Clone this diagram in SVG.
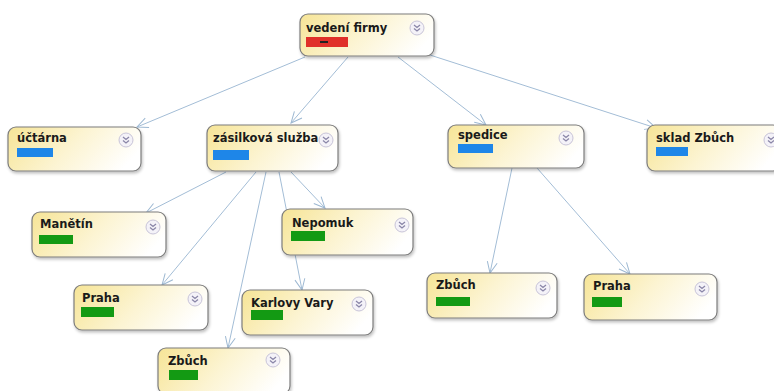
<svg xmlns="http://www.w3.org/2000/svg" width="774" height="391" viewBox="0 0 774 391">
<defs>
<linearGradient id="nodeFill" x1="0" y1="0.2" x2="1" y2="0.5">
<stop offset="0" stop-color="#f7e69c"/>
<stop offset="0.5" stop-color="#fcf4d2"/>
<stop offset="1" stop-color="#ffffff"/>
</linearGradient>
<filter id="shadow" x="-10%" y="-10%" width="125%" height="135%">
<feGaussianBlur in="SourceAlpha" stdDeviation="1.5"/>
<feOffset dx="1" dy="2" result="b"/>
<feComponentTransfer><feFuncA type="linear" slope="0.25"/></feComponentTransfer>
<feMerge><feMergeNode/><feMergeNode in="SourceGraphic"/></feMerge>
</filter>
<marker id="arrow" markerWidth="14" markerHeight="12" refX="12" refY="6" orient="auto" markerUnits="userSpaceOnUse">
<path d="M1,1 L12,6 L1,11" fill="none" stroke="#9db8d2" stroke-width="1"/>
</marker>
<g id="exp">
<circle cx="0" cy="0" r="7" fill="#f4f2f8" stroke="#c8c4d8" stroke-width="1"/>
<path d="M-3,-3 L0,-0.5 L3,-3 M-3,0.5 L0,3 L3,0.5" fill="none" stroke="#8a86a8" stroke-width="1.3"/>
</g>
</defs>
<style>
.box{fill:url(#nodeFill);stroke:#7d7d7d;stroke-width:1.2;filter:url(#shadow)}
.lbl{font-family:"DejaVu Sans",Verdana,sans-serif;font-weight:bold;font-size:11.5px;fill:#1a1a1a}
.edge{fill:none;stroke:#a3bdd6;stroke-width:1;marker-end:url(#arrow)}
.red{fill:#e0302a}
.blue{fill:#1e86e8}
.green{fill:#139a13}
</style>
<rect width="774" height="391" fill="#ffffff"/>
<g id="connectors">
<line class="edge" x1="305" y1="57" x2="137" y2="127"/>
<line class="edge" x1="348" y1="57" x2="291" y2="123"/>
<line class="edge" x1="398" y1="57" x2="486" y2="125"/>
<line class="edge" x1="430" y1="55" x2="656" y2="128"/>
<line class="edge" x1="226" y1="172" x2="146" y2="213"/>
<line class="edge" x1="291" y1="172" x2="325" y2="208"/>
<line class="edge" x1="256" y1="172" x2="162" y2="285"/>
<line class="edge" x1="279" y1="172" x2="302" y2="290"/>
<line class="edge" x1="266" y1="172" x2="228" y2="348"/>
<line class="edge" x1="512" y1="168" x2="490" y2="273"/>
<line class="edge" x1="537" y1="168" x2="630" y2="274"/>
</g>
<g id="n-vedeni">
<rect class="box" x="300" y="14" width="134" height="42" rx="8"/>
<text class="lbl" x="306" y="32">vedení firmy</text>
<rect class="red" x="306" y="37" width="42" height="10"/>
<rect x="320" y="41" width="8" height="2" fill="#222"/>
<use href="#exp" x="417" y="28"/>
</g>
<g id="n-uctarna">
<rect class="box" x="8" y="127" width="133" height="44" rx="8"/>
<text class="lbl" x="17" y="142">účtárna</text>
<rect class="blue" x="17" y="148" width="36" height="9"/>
<use href="#exp" x="126" y="140"/>
</g>
<g id="n-zasilkova">
<rect class="box" x="207" y="125" width="131" height="46" rx="8"/>
<text class="lbl" x="213" y="142">zásilková služba</text>
<rect class="blue" x="213" y="150" width="36" height="10"/>
<use href="#exp" x="326" y="140"/>
</g>
<g id="n-spedice">
<rect class="box" x="448" y="125" width="136" height="43" rx="8"/>
<text class="lbl" x="458" y="139">spedice</text>
<rect class="blue" x="458" y="144" width="35" height="9"/>
<use href="#exp" x="566" y="138"/>
</g>
<g id="n-sklad">
<rect class="box" x="647" y="125" width="134" height="46" rx="8"/>
<text class="lbl" x="656" y="142">sklad Zbůch</text>
<rect class="blue" x="656" y="147" width="32" height="9"/>
<use href="#exp" x="771" y="140"/>
</g>
<g id="n-manetin">
<rect class="box" x="32" y="212" width="134" height="45" rx="8"/>
<text class="lbl" x="40" y="228">Manětín</text>
<rect class="green" x="39" y="235" width="34" height="9"/>
<use href="#exp" x="153" y="227"/>
</g>
<g id="n-nepomuk">
<rect class="box" x="282" y="209" width="131" height="46" rx="8"/>
<text class="lbl" x="292" y="227">Nepomuk</text>
<rect class="green" x="291" y="231" width="34" height="10"/>
<use href="#exp" x="402" y="225"/>
</g>
<g id="n-praha1">
<rect class="box" x="74" y="285" width="134" height="45" rx="8"/>
<text class="lbl" x="82" y="302">Praha</text>
<rect class="green" x="81" y="307" width="33" height="10"/>
<use href="#exp" x="195" y="299"/>
</g>
<g id="n-karlovy">
<rect class="box" x="242" y="290" width="131" height="45" rx="8"/>
<text class="lbl" x="251" y="307">Karlovy Vary</text>
<rect class="green" x="251" y="310" width="32" height="10"/>
<use href="#exp" x="359" y="304"/>
</g>
<g id="n-zbuch1">
<rect class="box" x="158" y="348" width="132" height="46" rx="8"/>
<text class="lbl" x="168" y="365">Zbůch</text>
<rect class="green" x="169" y="370" width="29" height="10"/>
<use href="#exp" x="273" y="360"/>
</g>
<g id="n-zbuch2">
<rect class="box" x="427" y="273" width="130" height="45" rx="8"/>
<text class="lbl" x="436" y="289">Zbůch</text>
<rect class="green" x="436" y="297" width="34" height="9"/>
<use href="#exp" x="543" y="288"/>
</g>
<g id="n-praha2">
<rect class="box" x="584" y="274" width="133" height="46" rx="8"/>
<text class="lbl" x="593" y="290">Praha</text>
<rect class="green" x="592" y="297" width="30" height="10"/>
<use href="#exp" x="702" y="289"/>
</g>
</svg>
